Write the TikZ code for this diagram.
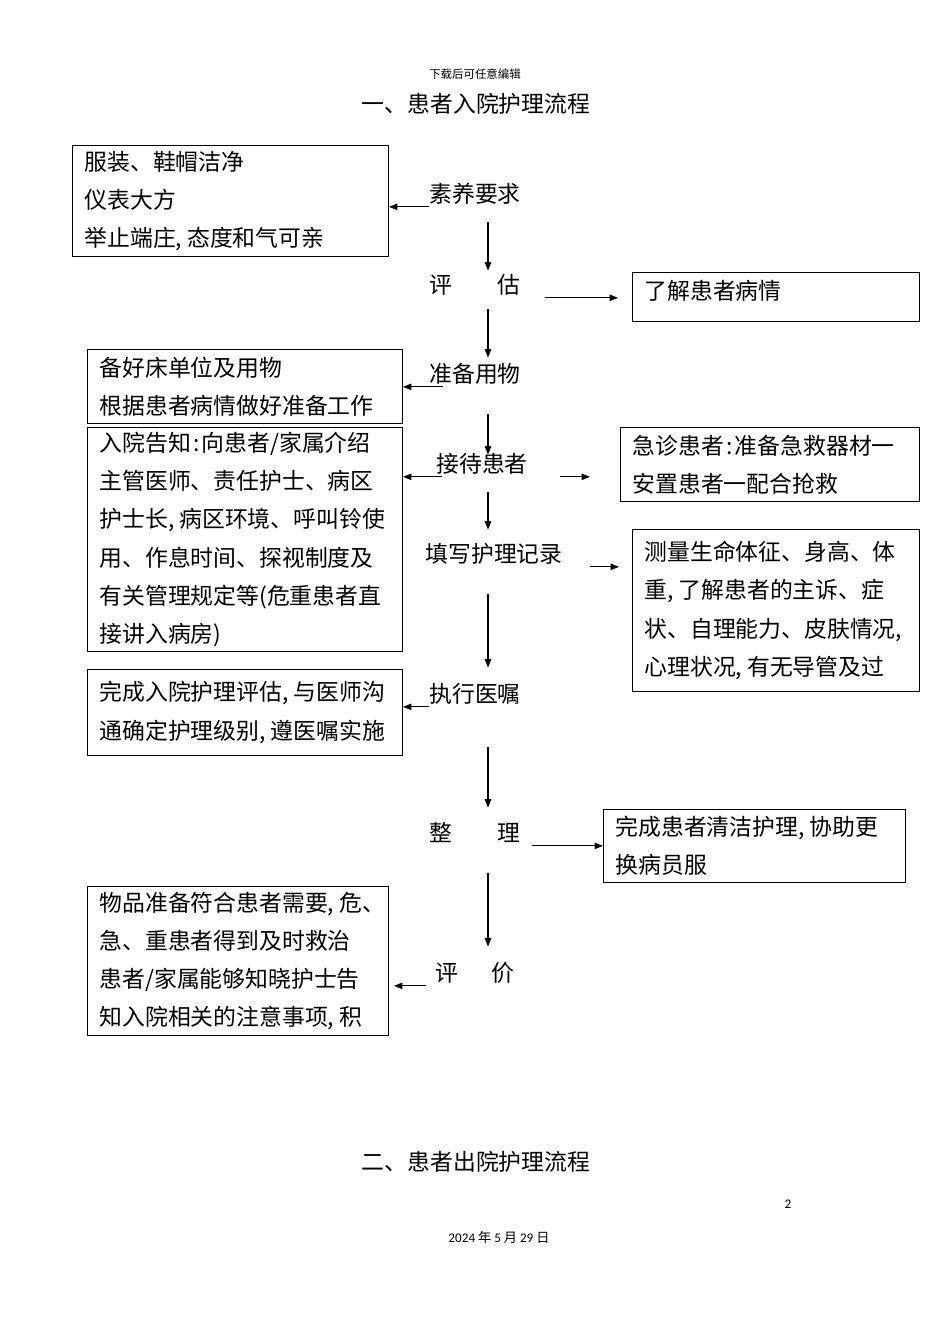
\documentclass[tikz,border=0pt]{standalone}
\usepackage{fontspec}
\setmainfont{Noto Sans CJK SC}
\newfontfamily\latinfont{Carlito}
\usetikzlibrary{arrows.meta}
\newcommand{\komma}{,\kern0.22em}

\begin{document}
\begin{tikzpicture}[x=0.02cm,y=-0.02cm,
		flow/.style={-{Triangle[length=0.17cm,width=0.13cm]},line width=0.6pt},
		font=\fontsize{13pt}{21.8pt}\selectfont]
	\useasboundingbox (0,0) rectangle (950,1344);
	\coordinate (spine) at (488,0);

	% page texts
	\node (kopf) at (475,74) {\fontsize{6.5pt}{8pt}\selectfont 下载后可任意编辑};
	\node (titel1) at (476,104) {一、患者入院护理流程};
	\node (titel2) at (476,1162) {二、患者出院护理流程};
	\node (seite) at (788,1204) {\fontsize{7.5pt}{9pt}\selectfont\latinfont 2};
	\node (datum) at (499,1237) {\fontsize{7.5pt}{9pt}\selectfont{\latinfont 2024} 年 {\latinfont 5} 月 {\latinfont 29} 日};

	% steps
	\begin{scope}[every node/.style={inner sep=0pt,minimum height=0.5cm}]
		\node (suyang) at (475,194) {素养要求};
		\node (pinggu) at (475,285) {评\hspace{0.9cm}估};
		\node (zhunbei) at (475,374) {准备用物};
		\node (jiedai) at (482,464) {接待患者};
		\node (tianxie) at (494,554) {填写护理记录};
		\node (zhixing) at (475,694) {执行医嘱};
		\node (zhengli) at (475,833) {整\hspace{0.9cm}理};
		\node (pingjia) at (475,973) {评\hspace{0.66cm}价};
	\end{scope}

	% boxes
	\begin{scope}[every node/.style={draw,line width=0.6pt,anchor=north west,align=left,inner xsep=0.24cm,inner ysep=0pt}]
		\node[text width=5.84cm,minimum height=2.22cm] (yirong) at (72,145) {服装、鞋帽洁净\\仪表大方\\举止端庄\komma 态度和气可亲};
		\node[text width=5.26cm,minimum height=0.98cm,text depth=0.3cm] (bingqing) at (632,272) {了解患者病情};
		\node[text width=5.82cm,minimum height=1.48cm] (yongwu) at (87,349) {备好床单位及用物\\根据患者病情做好准备工作};
		\node[text width=5.82cm,minimum height=4.48cm] (gaozhi) at (87,427) {入院告知\kern0.1em:\kern0.1em 向患者/家属介绍\\主管医师、责任护士、病区\\护士长\komma 病区环境、呼叫铃使\\用、作息时间、探视制度及\\有关管理规定等(危重患者直\\接讲入病房)};
		\node[text width=5.50cm,minimum height=1.48cm] (jiuzhi) at (620,427) {急诊患者\kern0.1em:\kern0.1em 准备急救器材一\\安置患者一配合抢救};
		\node[text width=5.26cm,minimum height=3.24cm] (tizheng) at (632,529) {测量生命体征、身高、体\\重\komma 了解患者的主诉、症\\状、自理能力、皮肤情况,\\心理状况\komma 有无导管及过};
		\node[text width=5.82cm,minimum height=1.72cm] (yizhu) at (87,669) {完成入院护理评估\komma 与医师沟\\通确定护理级别\komma 遵医嘱实施};
		\node[text width=5.56cm,minimum height=1.46cm] (qingjie) at (603,809) {完成患者清洁护理\komma 协助更\\换病员服};
		\node[text width=5.54cm,minimum height=2.98cm] (xiaoguo) at (87,886) {物品准备符合患者需要\komma 危、\\急、重患者得到及时救治\\患者/家属能够知晓护士告\\知入院相关的注意事项\komma 积};
	\end{scope}

	% arrows
	\begin{scope}
		\draw[flow,shorten <=0.31cm,shorten >=0.03cm] (suyang.south -| spine) -- (pinggu.north -| spine);
		\draw[flow,shorten <=0.23cm,shorten >=0.07cm] (pinggu.south -| spine) -- (zhunbei.north -| spine);
		\draw[flow,shorten <=0.55cm,shorten >=-0.07cm] (zhunbei.south -| spine) -- (jiedai.north -| spine);
		\draw[flow,shorten <=0.31cm,shorten >=0.23cm] (jiedai.south -| spine) -- (tianxie.north -| spine);
		\draw[flow,shorten <=0.55cm,shorten >=0.27cm] (tianxie.south -| spine) -- (zhixing.north -| spine);
		\draw[flow,shorten <=0.81cm,shorten >=0.25cm] (zhixing.south -| spine) -- (zhengli.north -| spine);
		\draw[flow,shorten <=0.55cm,shorten >=0.27cm] (zhengli.south -| spine) -- (pingjia.north -| spine);

		\draw[flow] (suyang.south west) -- (suyang.south west -| yirong.east);
		\draw[flow,shorten <=0.49cm,shorten >=0.28cm] (pinggu.south east) -- (pinggu.south east -| bingqing.west);
		\draw[flow] ([xshift=0.28cm]zhunbei.south west) -- (zhunbei.south west -| yongwu.east);
		\draw[flow] ([xshift=0.12cm]jiedai.south west) -- (jiedai.south west -| gaozhi.east);
		\draw[flow,shorten <=0.64cm,shorten >=0.6cm] (jiedai.south east) -- (jiedai.south east -| jiuzhi.west);
		\draw[flow,shorten <=0.54cm,shorten >=0.26cm] (tianxie.south east) -- (tianxie.south east -| tizheng.west);
		\draw[flow] (zhixing.south west) -- (zhixing.south west -| yizhu.east);
		\draw[flow,shorten <=0.23cm] (zhengli.south east) -- (zhengli.south east -| qingjie.west);
		\draw[flow,shorten >=0.1cm] ([xshift=-0.19cm]pingjia.south west) -- (pingjia.south west -| xiaoguo.east);
	\end{scope}
\end{tikzpicture}
\end{document}
